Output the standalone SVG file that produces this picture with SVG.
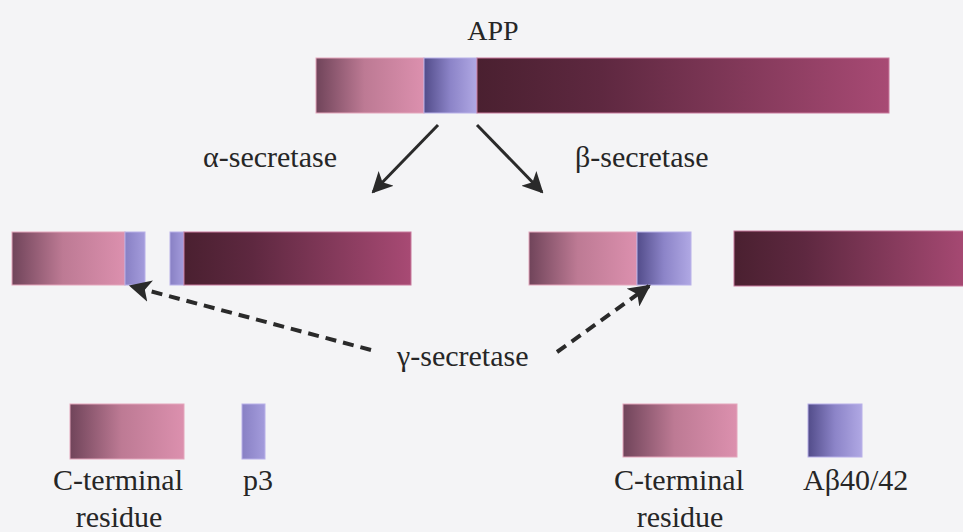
<svg xmlns="http://www.w3.org/2000/svg" width="963" height="532" viewBox="0 0 963 532">
<defs>
<linearGradient id="pink" x1="0" y1="0" x2="1" y2="0">
<stop offset="0" stop-color="#70445a"/>
<stop offset="0.45" stop-color="#bd7a94"/>
<stop offset="1" stop-color="#dc90ae"/>
</linearGradient>
<linearGradient id="blue" x1="0" y1="0" x2="1" y2="0">
<stop offset="0" stop-color="#524c8a"/>
<stop offset="0.5" stop-color="#8c84c8"/>
<stop offset="1" stop-color="#b0a8e4"/>
</linearGradient>
<linearGradient id="blueflat" x1="0" y1="0" x2="1" y2="0">
<stop offset="0" stop-color="#8880c4"/>
<stop offset="1" stop-color="#a49cdc"/>
</linearGradient>
<linearGradient id="dark" x1="0" y1="0" x2="1" y2="0">
<stop offset="0" stop-color="#4a2030"/>
<stop offset="0.3" stop-color="#5e2840"/>
<stop offset="1" stop-color="#a84a74"/>
</linearGradient>
<marker id="ah" viewBox="0 0 10 10" refX="9" refY="5" markerWidth="7" markerHeight="7" orient="auto" markerUnits="strokeWidth">
<path d="M0,0 L10,5 L0,10 L2.5,5 z" fill="#2a2a2a"/>
</marker>
<marker id="ahd" viewBox="0 0 10 10" refX="9" refY="5" markerWidth="5.5" markerHeight="5.5" orient="auto" markerUnits="strokeWidth">
<path d="M0,0 L10,5 L0,10 L2.5,5 z" fill="#2a2a2a"/>
</marker>
</defs>
<rect width="963" height="532" fill="#f4f4f6"/>
<g id="app">
<text x="493" y="40" text-anchor="middle" font-family="'Liberation Serif'" font-size="28" fill="#262626">APP</text>
<rect x="316" y="58" width="108" height="55" fill="url(#pink)" stroke="#e4a6bc"/>
<rect x="424" y="58" width="53" height="55" fill="url(#blue)" stroke="#b8b0e8"/>
<rect x="477" y="58" width="412" height="55" fill="url(#dark)" stroke="#c8789c"/>
</g>
<g id="alpha-label"><text x="203" y="167" font-family="'Liberation Serif'" font-size="30" fill="#262626">α-secretase</text></g>
<g id="beta-label"><text x="575" y="167" font-family="'Liberation Serif'" font-size="30" fill="#262626">β-secretase</text></g>
<g id="alpha-products">
<rect x="12" y="232" width="113" height="53" fill="url(#pink)" stroke="#e4a6bc"/>
<rect x="125" y="232" width="20" height="53" fill="url(#blueflat)" stroke="#b8b0e8"/>
<rect x="170" y="232" width="14" height="53" fill="url(#blueflat)" stroke="#b8b0e8"/>
<rect x="184" y="232" width="227" height="53" fill="url(#dark)" stroke="#c8789c"/>
</g>
<g id="beta-products">
<rect x="529" y="232" width="108" height="53" fill="url(#pink)" stroke="#e4a6bc"/>
<rect x="637" y="232" width="54" height="53" fill="url(#blue)" stroke="#b8b0e8"/>
<rect x="734" y="231" width="235" height="55" fill="url(#dark)" stroke="#c8789c"/>
</g>
<g id="gamma-label"><text x="397" y="366" font-family="'Liberation Serif'" font-size="30" fill="#262626">γ-secretase</text></g>
<g id="legend-c1">
<rect x="70" y="404" width="114" height="55" fill="url(#pink)" stroke="#e4a6bc"/>
<text x="118" y="490" text-anchor="middle" font-family="'Liberation Serif'" font-size="30" fill="#262626">C-terminal</text>
<text x="119" y="527" text-anchor="middle" font-family="'Liberation Serif'" font-size="30" fill="#262626">residue</text>
</g>
<g id="legend-p3">
<rect x="242" y="404" width="23" height="55" fill="url(#blueflat)" stroke="#b8b0e8"/>
<text x="243" y="490" font-family="'Liberation Serif'" font-size="30" fill="#262626">p3</text>
</g>
<g id="legend-c2">
<rect x="623" y="404" width="114" height="53" fill="url(#pink)" stroke="#e4a6bc"/>
<text x="679" y="490" text-anchor="middle" font-family="'Liberation Serif'" font-size="30" fill="#262626">C-terminal</text>
<text x="680" y="527" text-anchor="middle" font-family="'Liberation Serif'" font-size="30" fill="#262626">residue</text>
</g>
<g id="legend-abeta">
<rect x="808" y="404" width="54" height="53" fill="url(#blue)" stroke="#b8b0e8"/>
<text x="803" y="490" font-family="'Liberation Serif'" font-size="30" fill="#262626">Aβ40/42</text>
</g>
<g id="connectors" fill="none" stroke="#2a2a2a">
<line x1="438" y1="125" x2="373" y2="192" stroke-width="3" marker-end="url(#ah)"/>
<line x1="477" y1="125" x2="542" y2="192" stroke-width="3" marker-end="url(#ah)"/>
<line x1="371" y1="350" x2="131" y2="286" stroke-width="4" stroke-dasharray="11 7" marker-end="url(#ahd)"/>
<line x1="557" y1="352" x2="649" y2="286" stroke-width="4" stroke-dasharray="11 7" marker-end="url(#ahd)"/>
</g>
</svg>
